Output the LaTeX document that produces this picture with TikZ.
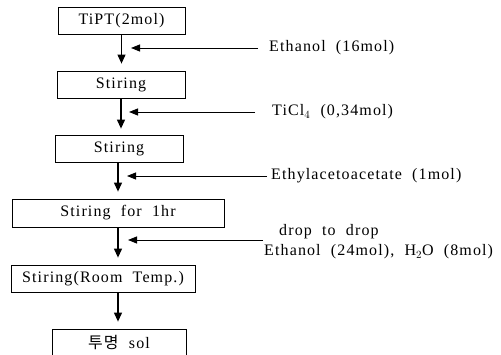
\documentclass[tikz,border=0pt]{standalone}
\usepackage{fontspec}
\setmainfont[LetterSpace=7]{Liberation Serif}
\newfontfamily\kofont[LetterSpace=7]{Noto Sans CJK KR}
\usetikzlibrary{arrows.meta}
\begin{document}
\begin{tikzpicture}[x=1pt,y=-1pt,font=\fontsize{16}{18}\selectfont]
  \tikzstyle{stepbox}=[draw,line width=0.8pt,inner sep=0pt,minimum height=27pt]
  \tikzstyle{flow}=[line width=1.1pt,-{Triangle[length=9pt,width=8pt]}]
  \tikzstyle{feed}=[line width=0.9pt,-{Triangle[length=9pt,width=7pt]}]
  \tikzstyle{lbl}=[anchor=west,inner sep=0pt]
  \useasboundingbox (0,0) rectangle (501,355);
  % process steps
  \node[stepbox,minimum width=127pt] (tipt) at (121.5,20.5) {TiPT(2mol)};
  \node[stepbox,minimum width=128pt] (stir1) at (121,84.5) {Stiring};
  \node[stepbox,minimum width=128pt] (stir2) at (119,148.5) {Stiring};
  \node[stepbox,minimum width=212pt,minimum height=28pt] (stir3) at (118,213) {Stiring\ \ for\ \ 1hr};
  \node[stepbox,minimum width=184pt] (stir4) at (103,278.5) {Stiring(Room\ \ Temp.)};
  \node[stepbox,minimum width=134pt,minimum height=32pt,text depth=6pt] (sol) at (119,345) {{\kofont 투명}\ \ sol};
  \draw[flow,shorten >=7pt] (tipt.south) -- (tipt.south |- stir1.north);
  \draw[flow,shorten >=6pt] (stir1.south) -- (stir1.south |- stir2.north);
  \draw[flow,shorten >=7pt] ([xshift=-1pt]stir2.south) -- ([xshift=-1pt]stir2.south |- stir3.north);
  \draw[flow,shorten >=7pt] (stir3.south) -- (stir3.south |- stir4.north);
  \draw[flow,shorten >=7pt] ([xshift=15pt]stir4.south) -- ([xshift=15pt]stir4.south |- sol.north);
  % added reagents
  \node[lbl] (etoh) at (269,48) {Ethanol\ \ (16mol)};
  \node[lbl] (ticl) at (272,112) {TiCl$_4$\ \ (0,34mol)};
  \node[lbl] (eaa) at (271,176) {Ethylacetoacetate\ \ (1mol)};
  \node[lbl] (drop) at (279,232) {drop\ \ to\ \ drop};
  \node[lbl] (mix) at (264,252) {Ethanol\ \ (24mol),\ \ H$_2$O\ \ (8mol)};
  \coordinate (in1) at (131,48);
  \coordinate (in2) at (129,112);
  \coordinate (in3) at (127,176);
  \coordinate (in4) at (128,240);
  \draw[feed] ([xshift=-11pt]etoh.west) -- (in1);
  \draw[feed] ([xshift=-17pt]ticl.west) -- (in2);
  \draw[feed] ([xshift=-4pt]eaa.west) -- (in3);
  \draw[feed] (263,240) coordinate (out4) -- (in4);
\end{tikzpicture}
\end{document}
